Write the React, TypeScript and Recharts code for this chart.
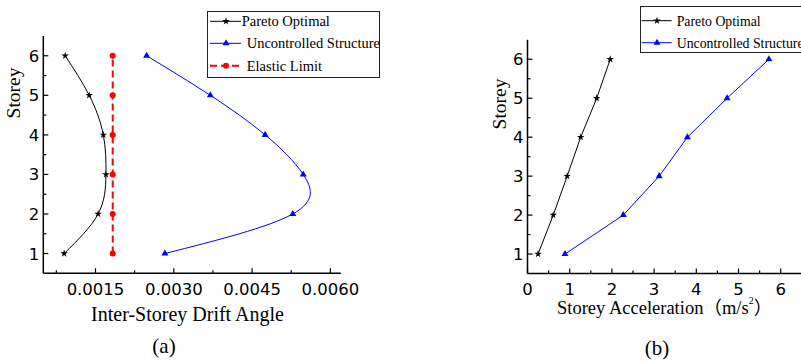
import React from 'react';
import { ScatterChart, Scatter, XAxis, YAxis, Legend, Symbols } from 'recharts';

// ---------- data ----------
const storeys = [1, 2, 3, 4, 5, 6];
const paretoDrift = [0.0009, 0.00155, 0.0017, 0.00165, 0.00138, 0.00092];
const uncontrolledDrift = [0.00283, 0.00528, 0.00548, 0.00475, 0.0037, 0.00248];
const elasticLimitDrift = [0.00183, 0.00183, 0.00183, 0.00183, 0.00183, 0.00183];
const paretoAccel = [0.25, 0.61, 0.94, 1.26, 1.64, 1.96];
const uncontrolledAccel = [0.89, 2.27, 3.12, 3.79, 4.73, 5.72];

const driftMajorTicks = [0.0015, 0.003, 0.0045, 0.006];
const driftMinorTicks = [0.00075, 0.00225, 0.00375, 0.00525];
const storeyMajorTicks = [1, 2, 3, 4, 5, 6];
const storeyMinorTicks = [1.5, 2.5, 3.5, 4.5, 5.5];
const accelMajorTicks = [0, 1, 2, 3, 4, 5, 6];
const accelMinorTicks = [0.5, 1.5, 2.5, 3.5, 4.5, 5.5];

const seriesNames = ['Pareto Optimal', 'Uncontrolled Structure', 'Elastic Limit'];
const driftTitle = 'Inter-Storey Drift Angle';
const storeyTitle = 'Storey';
const accelTitle = 'Storey Acceleration（m/s';
const panelLabels = ['(a)', '(b)'];

const toPoints = (xs: number[]) => xs.map((x, i) => ({ x, y: storeys[i] }));

// ---------- styles ----------
const SANS = '"DejaVu Sans", "Liberation Sans", Arial, sans-serif';
const SERIF = '"Liberation Serif", "Times New Roman", "Noto Sans CJK SC", serif';
const BLACK = '#000000';
const BLUE = '#0000ff';
const RED = '#ff0000';
const TICK_FONT = 16.5;

const sortedTicks = (a: number[], b: number[]) => [...a, ...b].sort((p, q) => p - q);
const isIn = (list: number[], v: number) => list.some((m) => Math.abs(m - v) < 1e-9);

const makeXTick = (majors: number[], fmt: (v: number) => string) => (props: any) => {
  const { x, y, payload } = props;
  const v = payload.value;
  const major = isIn(majors, v);
  return (
    <g>
      <line x1={x} x2={x} y1={y} y2={y - (major ? 5 : 3)} stroke={BLACK} strokeWidth={1.2} />
      {major && (
        <text x={x} y={y + 21.5} textAnchor="middle" fontFamily={SANS} fontSize={TICK_FONT} fill={BLACK}>
          {fmt(v)}
        </text>
      )}
    </g>
  );
};

const makeYTick = (majors: number[]) => (props: any) => {
  const { x, y, payload } = props;
  const v = payload.value;
  const major = isIn(majors, v);
  return (
    <g>
      <line x1={x} x2={x + (major ? 5 : 3)} y1={y} y2={y} stroke={BLACK} strokeWidth={1.2} />
      {major && (
        <text x={x - 4} y={y + 6} textAnchor="end" fontFamily={SANS} fontSize={TICK_FONT} fill={BLACK}>
          {String(v)}
        </text>
      )}
    </g>
  );
};

const marker = (type: 'star' | 'triangle' | 'circle', color: string, size: number) => (p: any) => (
  <Symbols cx={p.cx} cy={p.cy} type={type} size={size} sizeType="diameter" fill={color} stroke="none" />
);

const legendItems = [
  { name: seriesNames[0], color: BLACK, type: 'star' as const, size: 7.5, dash: undefined as string | undefined, sw: 1 },
  { name: seriesNames[1], color: BLUE, type: 'triangle' as const, size: 7, dash: undefined as string | undefined, sw: 1 },
  { name: seriesNames[2], color: RED, type: 'circle' as const, size: 6, dash: '7 4', sw: 2 },
];

const makeLegend = (
  count: number,
  w: number,
  h: number,
  rows: number[],
  lineX: [number, number],
  mx: number,
  textX: number[],
  fontSize: number,
) => () => (
  <svg width={w + 2} height={h + 2} style={{ display: 'block', overflow: 'visible' }}>
    <rect x={0.5} y={0.5} width={w} height={h} fill="#fff" stroke="#222" strokeWidth={1} />
    {legendItems.slice(0, count).map((it, i) => (
      <g key={it.name}>
        <line
          x1={lineX[0]}
          x2={lineX[1]}
          y1={rows[i]}
          y2={rows[i]}
          stroke={it.color}
          strokeWidth={it.sw}
          strokeDasharray={it.dash}
        />
        <Symbols cx={mx} cy={rows[i]} type={it.type} size={it.size} sizeType="diameter" fill={it.color} />
        <text x={textX[i]} y={rows[i] + 5} fontFamily={SERIF} fontSize={fontSize} fill={BLACK}>
          {it.name}
        </text>
      </g>
    ))}
  </svg>
);

const axisLineStyle = { stroke: BLACK, strokeWidth: 1.5 };

export default function App() {
  return (
    <div
      style={{
        position: 'absolute',
        left: 0,
        top: 0,
        width: 801,
        height: 363,
        overflow: 'hidden',
        background: '#fff',
      }}
    >
      {/* Chart (a) */}
      <div style={{ position: 'absolute', left: 0, top: 0 }}>
        <ScatterChart width={360} height={363} margin={{ top: 36, right: 19.2, bottom: 59.7, left: 0 }}>
          <XAxis
            type="number"
            dataKey="x"
            domain={[0.0005, 0.0062]}
            ticks={sortedTicks(driftMajorTicks, driftMinorTicks)}
            interval={0}
            height={30}
            tickSize={0}
            tickMargin={0}
            tickLine={false}
            axisLine={axisLineStyle}
            tick={makeXTick(driftMajorTicks, (v) => v.toFixed(4))}
            allowDataOverflow
          />
          <YAxis
            type="number"
            dataKey="y"
            domain={[0.5, 6.5]}
            ticks={sortedTicks(storeyMajorTicks, storeyMinorTicks)}
            interval={0}
            width={43.3}
            tickSize={0}
            tickMargin={0}
            tickLine={false}
            axisLine={axisLineStyle}
            tick={makeYTick(storeyMajorTicks)}
            allowDataOverflow
          />
          <Legend
            layout="vertical"
            align="center"
            verticalAlign="middle"
            wrapperStyle={{ left: 207, top: 11, width: 175, height: 69 }}
            content={makeLegend(3, 172, 66, [10.3, 32.3, 54.7], [3, 34], 19, [34.7, 39.7, 39.7], 14.5)}
          />
          <Scatter
            name={seriesNames[0]}
            data={toPoints(paretoDrift)}
            line={{ stroke: BLACK, strokeWidth: 1 }}
            lineJointType="natural"
            shape={marker('star', BLACK, 7.5)}
            isAnimationActive={false}
          />
          <Scatter
            name={seriesNames[1]}
            data={toPoints(uncontrolledDrift)}
            line={{ stroke: BLUE, strokeWidth: 1 }}
            lineJointType="natural"
            shape={marker('triangle', BLUE, 7)}
            isAnimationActive={false}
          />
          <Scatter
            name={seriesNames[2]}
            data={toPoints(elasticLimitDrift)}
            line={{ stroke: RED, strokeWidth: 2, strokeDasharray: '7 4' }}
            shape={marker('circle', RED, 6)}
            isAnimationActive={false}
          />
        </ScatterChart>
      </div>

      {/* Chart (b) */}
      <div style={{ position: 'absolute', left: 480, top: 0 }}>
        <ScatterChart width={330} height={363} margin={{ top: 39.8, right: 8.2, bottom: 59.5, left: 0 }}>
          <XAxis
            type="number"
            dataKey="x"
            domain={[0, 6.5]}
            ticks={sortedTicks(accelMajorTicks, accelMinorTicks)}
            interval={0}
            height={30}
            tickSize={0}
            tickMargin={0}
            tickLine={false}
            axisLine={axisLineStyle}
            tick={makeXTick(accelMajorTicks, (v) => String(v))}
            allowDataOverflow
          />
          <YAxis
            type="number"
            dataKey="y"
            domain={[0.5, 6.5]}
            ticks={sortedTicks(storeyMajorTicks, storeyMinorTicks)}
            interval={0}
            width={47.5}
            tickSize={0}
            tickMargin={0}
            tickLine={false}
            axisLine={axisLineStyle}
            tick={makeYTick(storeyMajorTicks)}
            allowDataOverflow
          />
          <Legend
            layout="vertical"
            align="center"
            verticalAlign="middle"
            wrapperStyle={{ left: 160, top: 6, width: 172, height: 49 }}
            content={makeLegend(2, 168, 46, [14.7, 36.7], [1.7, 31.7], 17, [36.7, 36.7], 13.8)}
          />
          <Scatter
            name={seriesNames[0]}
            data={toPoints(paretoAccel)}
            line={{ stroke: BLACK, strokeWidth: 1 }}
            shape={marker('star', BLACK, 7.5)}
            isAnimationActive={false}
          />
          <Scatter
            name={seriesNames[1]}
            data={toPoints(uncontrolledAccel)}
            line={{ stroke: BLUE, strokeWidth: 1 }}
            shape={marker('triangle', BLUE, 7)}
            isAnimationActive={false}
          />
        </ScatterChart>
      </div>

      {/* Titles */}
      <svg
        width={801}
        height={363}
        style={{ position: 'absolute', left: 0, top: 0, pointerEvents: 'none' }}
      >
        <text
          transform="translate(20,93) rotate(-90)"
          textAnchor="middle"
          fontFamily={SERIF}
          fontSize={19.5}
          fill={BLACK}
        >
          {storeyTitle}
        </text>
        <text
          transform="translate(506,104) rotate(-90)"
          textAnchor="middle"
          fontFamily={SERIF}
          fontSize={19.5}
          fill={BLACK}
        >
          {storeyTitle}
        </text>
        <text x={187.5} y={320.5} textAnchor="middle" fontFamily={SERIF} fontSize={20} fill={BLACK}>
          {driftTitle}
        </text>
        <text x={557} y={314} fontFamily={SERIF} fontSize={18.5} fill={BLACK}>
          {accelTitle}
          <tspan dy={-10} fontSize={10}>
            2
          </tspan>
          <tspan dy={10}>）</tspan>
        </text>
        <text x={164} y={353} textAnchor="middle" fontFamily={SERIF} fontSize={21} fill={BLACK}>
          {panelLabels[0]}
        </text>
        <text x={657} y={355} textAnchor="middle" fontFamily={SERIF} fontSize={21} fill={BLACK}>
          {panelLabels[1]}
        </text>
      </svg>
    </div>
  );
}
